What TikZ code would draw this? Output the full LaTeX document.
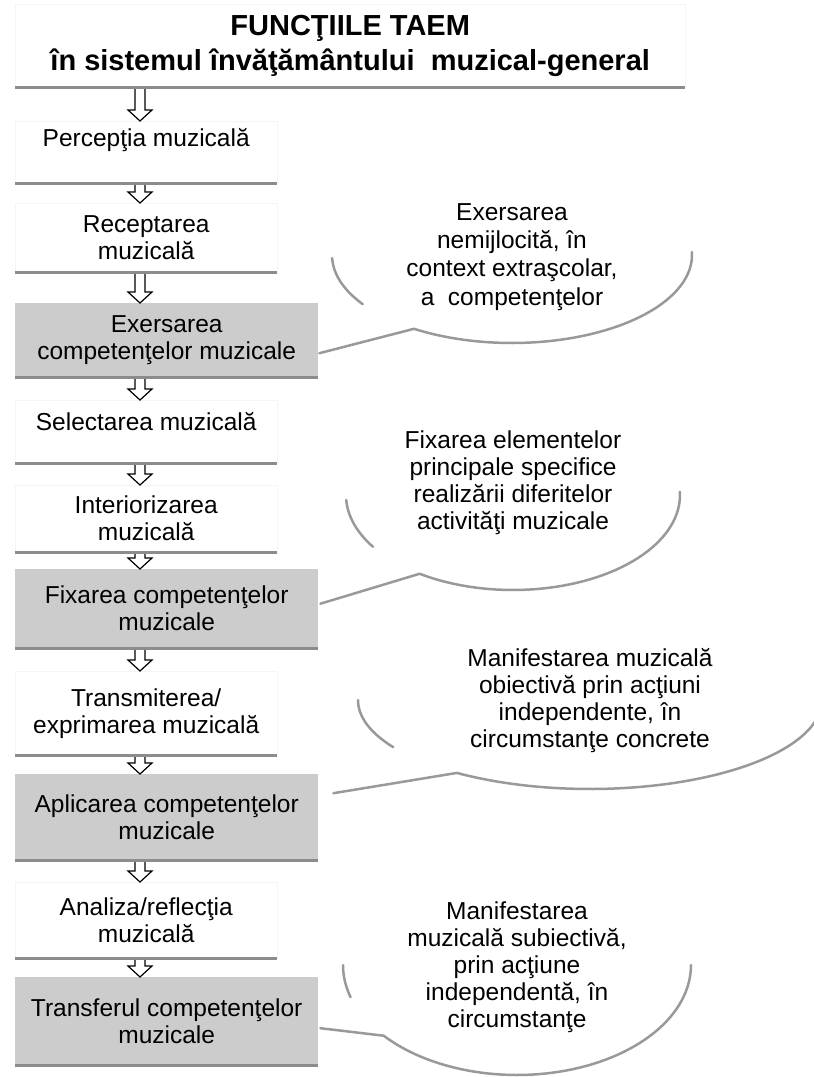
\documentclass[tikz,border=0pt]{standalone}
\usepackage{fontspec}
\setmainfont{Liberation Sans}
\usetikzlibrary{calc}

\newcommand\bodyfont{\fontsize{24.5}{27}\selectfont}
\newcommand\headfont{\fontsize{29}{35}\selectfont\bfseries}

% hollow block arrow between two points of the arrow column
\newcommand\flowarrow[2]{%
  \draw[flowarrow] let \p1=(#1), \p2=(#2) in
    (\x1-5pt,\y1) -- (\x1-5pt,\y2+11pt) -- (\x1-12pt,\y2+11pt) -- (\x1,\y2)
    -- (\x1+12pt,\y2+11pt) -- (\x1+5pt,\y2+11pt) -- (\x1+5pt,\y1) -- cycle;}

\tikzset{
  stage/.style={rectangle, anchor=north west, inner sep=0pt, align=center, font=\bodyfont},
  plainstage/.style={stage, fill=white, draw=black!4, minimum width=262},
  keystage/.style={stage, fill=black!20, minimum width=303},
  ledge/.style={draw=black!45, line width=3.5},
  flowarrow/.style={draw=black, line width=1.2, fill=white, line join=miter},
  bubble/.style={draw=black!40, line width=2.5, line cap=round, line join=round},
  bubbletext/.style={align=center, font=\bodyfont, inner sep=0pt},
}

\begin{document}
\begin{tikzpicture}[x=1pt,y=-1pt]
\useasboundingbox (0,0) rectangle (814,1077);
\fill[white] (0,0) rectangle (814,1077);

% heading
\node[plainstage, minimum width=670, minimum height=83, font=\headfont] (title) at (15,4)
  {FUNCŢIILE TAEM\\în sistemul învăţământului~~muzical-general};

% chain of stages
\node[plainstage, minimum height=62, text height=17.5pt, text depth=28pt] (b1) at (15,121) {Percepţia muzicală};
\node[plainstage, minimum height=69] (b2) at (15,203) {Receptarea\\muzicală};
\node[keystage, minimum height=74] (b3) at (15,303) {Exersarea\\competenţelor muzicale};
\node[plainstage, minimum height=63, text height=17.5pt, text depth=19.5pt] (b4) at (15,400) {Selectarea muzicală};
\node[plainstage, minimum height=67] (b5) at (15,485) {Interiorizarea\\muzicală};
\node[keystage, minimum height=79] (b6) at (15,569) {Fixarea competenţelor\\muzicale};
\node[plainstage, minimum height=84] (b7) at (15,671) {Transmiterea/\\exprimarea muzicală};
\node[keystage, minimum height=86] (b8) at (15,774) {Aplicarea competenţelor\\muzicale};
\node[plainstage, minimum height=76] (b9) at (15,882) {Analiza/reflecţia\\muzicală};
\node[keystage, minimum height=88] (b10) at (15,977) {Transferul competenţelor\\muzicale};

% arrows down the column
\coordinate (ax) at (140,0);
\flowarrow{title.south -| ax}{b1.north -| ax}
\flowarrow{b1.south -| ax}{b2.north -| ax}
\flowarrow{b2.south -| ax}{b3.north -| ax}
\flowarrow{b3.south -| ax}{b4.north -| ax}
\flowarrow{b4.south -| ax}{b5.north -| ax}
\flowarrow{b5.south -| ax}{b6.north -| ax}
\flowarrow{b6.south -| ax}{b7.north -| ax}
\flowarrow{b7.south -| ax}{b8.north -| ax}
\flowarrow{b8.south -| ax}{b9.north -| ax}
\flowarrow{b9.south -| ax}{b10.north -| ax}

% shaded lower edges
\foreach \n in {title,b1,b2,b3,b4,b5,b6,b7,b8,b9,b10}
  \draw[ledge] (\n.south west) -- (\n.south east);

% callout 1
\node[bubbletext, font=\fontsize{24.5}{28.3}\selectfont] (t1) at (512,257)
  {Exersarea\\nemijlocită, în\\context extraşcolar,\\a~~competenţelor};
\draw[bubble] plot[domain=178:146, samples=20] ({512+180*cos(\x)},{255+88*sin(\x)});
\draw[bubble] ($(b3.east)+(1,13)$) -- plot[domain=123:-2, samples=50] ({512+180*cos(\x)},{255+88*sin(\x)});

% callout 2
\node[bubbletext] (t2) at (513,483)
  {Fixarea elementelor\\principale specifice\\realizării diferitelor\\activităţi muzicale};
\draw[bubble] plot[domain=177:147, samples=20] ({513+167*cos(\x)},{495+95*sin(\x)});
\draw[bubble] ($(b6.east)+(2,-5)$) -- plot[domain=124:-2, samples=50] ({513+167*cos(\x)},{495+95*sin(\x)});

% callout 3
\node[bubbletext] (t3) at (590,701)
  {Manifestarea muzicală\\obiectivă prin acţiuni\\independente, în\\circumstanţe concrete};
\draw[bubble] plot[domain=180:148, samples=20] ({590+232*cos(\x)},{700+89*sin(\x)});
\draw[bubble] ($(b8.east)+(15,-24)$) -- plot[domain=125:8, samples=60] ({590+232*cos(\x)},{700+89*sin(\x)});

% callout 4
\node[bubbletext] (t4) at (517,967)
  {Manifestarea\\muzicală subiectivă,\\prin acţiune\\independentă, în\\circumstanţe};
\draw[bubble] plot[domain=180:163, samples=12] ({517+174*cos(\x)},{965+110*sin(\x)});
\draw[bubble] ($(b10.east)+(2,7)$) -- plot[domain=140:0, samples=60] ({517+174*cos(\x)},{965+110*sin(\x)});
\end{tikzpicture}
\end{document}
